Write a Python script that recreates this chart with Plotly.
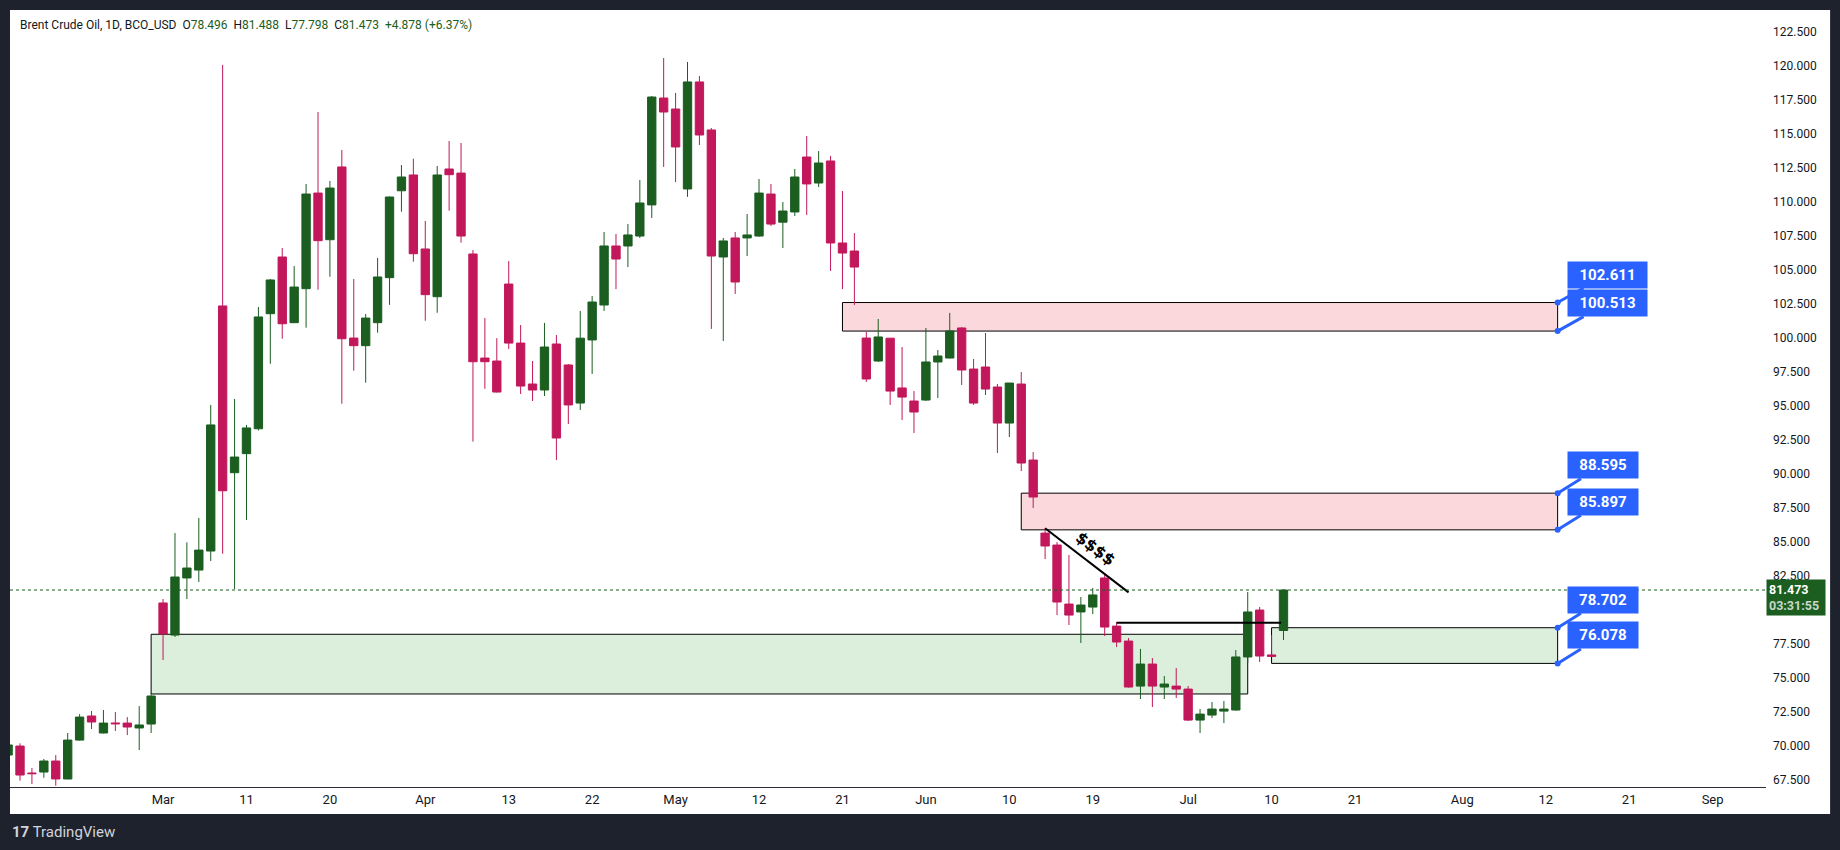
import plotly.graph_objects as go

# ---------------- data ----------------
bar_index = list(range(-13, 95))
opens = [69.34, 70.00, 68.02, 68.09, 68.90, 67.58, 70.44, 72.21, 70.96, 71.70, 71.69, 71.33, 71.62,
         80.52, 78.16, 82.36, 82.94, 84.34, 102.36, 90.10, 91.50, 93.33, 101.79, 105.96, 101.13, 103.63,
         110.66, 107.23, 112.58, 100.00, 99.44, 101.13, 104.44, 110.83, 111.99, 106.55, 103.04, 112.43,
         112.13, 106.18, 98.53, 98.31, 103.97, 99.63, 96.62, 96.18, 99.56, 98.02, 95.22, 99.86, 102.43,
         106.77, 106.77, 107.50, 109.79, 117.65, 116.84, 110.96, 118.83, 115.30, 105.96, 107.36, 107.36,
         107.50, 110.59, 108.52, 109.27, 113.31, 111.40, 113.02, 106.99, 106.40, 100.00, 98.31, 99.99,
         96.33, 95.37, 95.44, 98.24, 98.53, 100.74, 97.72, 97.87, 96.40, 93.75, 96.62, 91.03, 85.66,
         84.78, 80.44, 79.86, 80.22, 82.36, 78.82, 77.72, 74.41, 76.03, 74.34, 74.41, 74.19, 71.91,
         72.28, 72.57, 72.65, 76.55, 80.00, 76.70, 78.496]
highs = [70.20, 70.20, 68.39, 69.05, 69.34, 70.96, 72.35, 72.58, 72.65, 72.50, 72.13, 72.94, 73.90,
         80.81, 85.66, 84.98, 86.77, 95.08, 120.08, 95.52, 93.61, 102.28, 104.34, 106.62, 105.29, 111.33,
         116.62, 111.55, 113.83, 104.34, 101.77, 105.89, 110.40, 112.72, 113.19, 108.61, 112.65, 114.49,
         114.34, 106.47, 101.47, 99.99, 105.66, 100.96, 98.31, 101.11, 100.22, 98.09, 101.99, 103.09,
         107.80, 107.65, 108.38, 111.62, 117.80, 120.59, 118.02, 120.30, 119.27, 115.44, 107.36, 107.80,
         109.12, 111.69, 111.33, 110.00, 112.43, 114.86, 113.75, 113.39, 110.81, 107.72, 100.44, 101.40,
         100.00, 99.34, 96.10, 100.74, 99.12, 101.85, 100.80, 98.46, 100.37, 96.62, 96.70, 97.50, 91.62,
         86.03, 85.00, 84.05, 80.96, 81.62, 82.65, 79.12, 77.94, 77.14, 76.47, 75.15, 75.74, 74.41,
         72.72, 73.24, 73.31, 77.06, 81.33, 80.22, 78.16, 81.488]
lows = [69.20, 67.45, 67.21, 67.67, 67.08, 67.55, 70.40, 71.25, 70.93, 71.11, 70.81, 69.71, 70.96,
        76.33, 78.02, 80.81, 82.06, 83.61, 84.14, 81.55, 86.62, 93.20, 98.11, 99.95, 101.10, 100.76,
        103.55, 104.51, 95.17, 97.60, 96.72, 100.39, 102.44, 109.29, 105.61, 101.27, 101.86, 109.36,
        107.01, 92.38, 96.27, 96.00, 99.19, 95.89, 95.37, 95.74, 91.03, 93.68, 94.71, 97.36, 101.99,
        103.60, 105.22, 107.36, 108.83, 112.58, 111.47, 110.38, 114.19, 100.67, 99.78, 103.24, 106.03,
        107.45, 108.24, 106.62, 108.97, 109.05, 111.10, 104.93, 103.60, 102.43, 96.77, 98.24, 95.08,
        93.97, 93.02, 95.37, 95.59, 98.50, 96.55, 95.08, 95.81, 91.55, 92.72, 90.22, 87.50, 83.75,
        79.63, 78.90, 77.58, 79.71, 78.09, 77.28, 74.30, 73.46, 72.87, 73.46, 73.53, 71.84, 70.96,
        72.06, 71.69, 72.60, 76.11, 76.18, 76.55, 77.798]
closes = [70.08, 67.87, 67.97, 68.90, 67.58, 70.44, 72.13, 71.77, 71.69, 71.64, 71.40, 71.55, 73.68,
          78.24, 82.43, 83.09, 84.41, 93.61, 88.77, 91.25, 93.39, 101.55, 104.27, 101.05, 103.75, 110.59,
          107.16, 111.03, 99.95, 99.44, 101.47, 104.49, 110.37, 111.84, 106.20, 103.19, 111.99, 112.01,
          107.50, 98.26, 98.26, 96.03, 99.63, 96.47, 96.18, 99.34, 92.65, 95.08, 99.99, 102.65, 106.77,
          105.81, 107.58, 109.93, 117.72, 116.62, 114.05, 118.83, 114.93, 106.03, 107.14, 104.12, 107.58,
          110.66, 108.38, 109.34, 111.84, 111.33, 112.87, 106.99, 106.25, 105.22, 96.99, 100.08, 96.10,
          95.66, 94.56, 98.24, 98.68, 100.52, 97.65, 95.22, 96.25, 93.75, 96.69, 90.81, 88.31, 84.71,
          80.59, 79.63, 80.37, 81.11, 78.75, 77.65, 74.34, 76.03, 74.41, 74.56, 74.19, 71.91, 72.35,
          72.72, 72.72, 76.55, 79.86, 76.62, 76.595, 81.473]

tick_index = [0, 7, 14, 22, 29, 36, 43, 50, 57, 64, 71, 78, 86, 93, 100, 109, 116, 123, 130]
tick_labels = ["Mar", "11", "20", "Apr", "13", "22", "May", "12", "21", "Jun", "10", "19",
               "Jul", "10", "21", "Aug", "12", "21", "Sep"]
price_ticks = [67.5, 70.0, 72.5, 75.0, 77.5, 80.0, 82.5, 85.0, 87.5, 90.0, 92.5, 95.0, 97.5,
               100.0, 102.5, 105.0, 107.5, 110.0, 112.5, 115.0, 117.5, 120.0, 122.5]

# zones: start bar, end bar, low, high
supply_zones = [(57, 117, 100.513, 102.611), (72, 117, 85.897, 88.595)]
demand_zones = [(-1, 91, 73.83, 78.22), (93, 117, 76.078, 78.702)]
labelled_zones = [(117, 100.513, 102.611), (117, 85.897, 88.595), (117, 76.078, 78.702)]
trend_line = ([74, 81], [86.01, 81.30])
level_line = ([80, 93.8], [79.07, 79.07])
countdown = "03:31:55"

# ---------------- style ----------------
GREEN = "#1b5e20"
RED = "#c2185b"
FRAME = "#1e222d"
TEXT = "#131722"
BLUE = "#2962ff"
FONT = "Roboto"

fig = go.Figure()
fig.add_trace(go.Candlestick(
    x=bar_index, open=opens, high=highs, low=lows, close=closes,
    increasing=dict(line=dict(color=GREEN, width=1), fillcolor=GREEN),
    decreasing=dict(line=dict(color=RED, width=1), fillcolor=RED),
    whiskerwidth=0, hoverinfo="skip", showlegend=False,
))

shapes = []
# white panel incl. axis areas
shapes.append(dict(type="rect", xref="paper", yref="paper", x0=0, x1=1.0365, y0=-0.0348, y1=1,
                   fillcolor="white", line=dict(width=0), layer="below"))
for x0, x1, lo, hi in supply_zones:
    shapes.append(dict(type="rect", xref="x", yref="y", x0=x0, x1=x1, y0=lo, y1=hi,
                       fillcolor="#fbd8db", line=dict(color="black", width=1), layer="below"))
for x0, x1, lo, hi in demand_zones:
    shapes.append(dict(type="rect", xref="x", yref="y", x0=x0, x1=x1, y0=lo, y1=hi,
                       fillcolor="#dcefdd", line=dict(color="black", width=1), layer="below"))
shapes.append(dict(type="line", xref="x", yref="y", x0=trend_line[0][0], x1=trend_line[0][1],
                   y0=trend_line[1][0], y1=trend_line[1][1], line=dict(color="black", width=2)))
shapes.append(dict(type="line", xref="x", yref="y", x0=level_line[0][0], x1=level_line[0][1],
                   y0=level_line[1][0], y1=level_line[1][1], line=dict(color="black", width=2)))
shapes.append(dict(type="line", xref="paper", yref="y", x0=0, x1=1, y0=closes[-1], y1=closes[-1],
                   line=dict(color=GREEN, width=1, dash="dot")))

annotations = []
# header
chg = closes[-1] - closes[-2]
pct = chg / closes[-2] * 100
g = lambda s: f"<span style='color:{GREEN}'>{s}</span>"
nb = "\u00a0\u00a0"
header = (f"Brent Crude Oil, 1D, BCO_USD{nb}O{g(f'{opens[-1]:.3f}')}{nb}H{g(f'{highs[-1]:.3f}')}"
          f"{nb}L{g(f'{lows[-1]:.3f}')}{nb}C{g(f'{closes[-1]:.3f}')}{nb}"
          f"{g(f'{chg:+.3f} ({pct:+.2f}%)')}")
annotations.append(dict(xref="paper", yref="paper", x=0.0046, y=0.9807, xanchor="left",
                        yanchor="middle", text=header, showarrow=False,
                        font=dict(family=FONT, size=12, color=TEXT)))
# callouts
dot_x, dot_y = [], []
for xe, lo, hi in labelled_zones:
    for val in (hi, lo):
        txt = f"{val:.3f}"
        w = 71 if val >= 100 else 62
        annotations.append(dict(x=xe, y=val, xref="x", yref="y", text=f"<b>{txt}</b>",
                                showarrow=True, arrowhead=0, arrowwidth=3, arrowcolor=BLUE,
                                ax=50 if val >= 100 else 45, ay=-28, standoff=0,
                                bgcolor=BLUE, borderpad=4, width=w, height=18,
                                font=dict(family=FONT, size=15, color="white")))
        dot_x.append(xe)
        dot_y.append(val)
fig.add_trace(go.Scatter(x=dot_x, y=dot_y, mode="markers", marker=dict(color=BLUE, size=6),
                         hoverinfo="skip", showlegend=False, cliponaxis=False))
# $$$$
annotations.append(dict(x=78.2, y=84.49, xref="x", yref="y", text="<b>$$$$</b>", showarrow=False,
                        textangle=37, font=dict(family="DejaVu Sans", size=16, color="black")))
# current price label
annotations.append(dict(xref="paper", yref="y", x=1.0, y=closes[-1], xanchor="left",
                        yanchor="middle", yshift=-7, xshift=0, align="left",
                        text=(f"<b>{closes[-1]:.3f}</b><br>"
                              f"<span style='color:#c8d8c9'><b>{countdown}</b></span>"),
                        showarrow=False, bgcolor=GREEN, borderpad=2, width=54,
                        font=dict(family=FONT, size=12.5, color="white")))
# TradingView mark
annotations.append(dict(xref="paper", yref="paper", x=0.0, y=-0.058, xanchor="left",
                        yanchor="middle", showarrow=False,
                        text="<b>17</b> TradingView",
                        font=dict(family=FONT, size=15, color="#d1d4dc")))

fig.update_layout(
    width=1840, height=850,
    margin=dict(l=10, r=74, t=10, b=63),
    paper_bgcolor=FRAME, plot_bgcolor="white",
    boxgap=0.3, boxgroupgap=0,
    shapes=shapes, annotations=annotations,
    showlegend=False,
    xaxis=dict(range=[-12.84, 134.48], rangeslider=dict(visible=False), showgrid=False,
               zeroline=False, tickvals=tick_index, ticktext=tick_labels, ticks="",
               showline=True, linecolor="#2a2e39", linewidth=1,
               tickfont=dict(family=FONT, size=13, color=TEXT)),
    yaxis=dict(range=[66.99, 124.12], side="right", showgrid=False, zeroline=False,
               tickvals=price_ticks, ticktext=[f"{v:.3f}" for v in price_ticks], ticks="",
               ticklabelstandoff=6,
               tickfont=dict(family=FONT, size=12, color=TEXT)),
)

fig.write_html("out.html")
